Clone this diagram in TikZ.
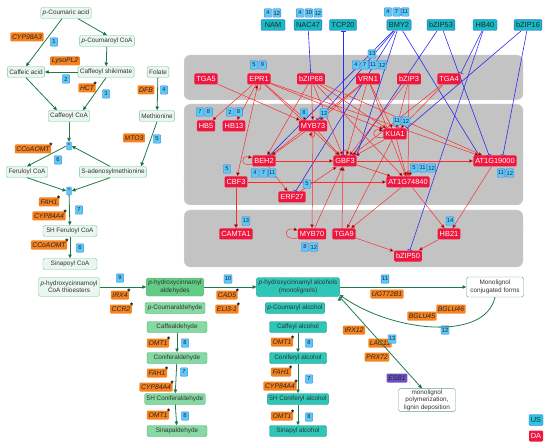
\documentclass[tikz,border=0pt]{standalone}
\usepackage{fontspec}
\setmainfont{Liberation Sans}
\usetikzlibrary{arrows.meta,positioning,backgrounds}

\definecolor{pathgreen}{HTML}{1E7B4A}
\definecolor{metfill}{HTML}{EAF7EE}
\definecolor{metdraw}{HTML}{74C69A}
\definecolor{aldfill}{HTML}{86D9A2}
\definecolor{aldtop}{HTML}{62CC86}
\definecolor{alcfill}{HTML}{2EC6B6}
\definecolor{genefill}{HTML}{F5821F}
\definecolor{numfill}{HTML}{5CC9F5}
\definecolor{numdraw}{HTML}{3D7DEB}
\definecolor{dafill}{HTML}{F0163E}
\definecolor{usfill}{HTML}{17BAC4}
\definecolor{usdraw}{HTML}{3358E0}
\definecolor{repblue}{HTML}{2B2BF2}
\definecolor{actred}{HTML}{FF2B2B}
\definecolor{clusterfill}{HTML}{C3C3C3}
\definecolor{esbfill}{HTML}{6B50C4}
\definecolor{legcyan}{HTML}{2AC6E4}

% row of step numbers next to each other
\newcommand{\numrow}[3]{%
  \foreach \t [count=\k] in {#3}{%
    \ifnum\k=1
      \node[numbox, anchor=west] (#1-\k) at (#2) {\t};
    \else
      \pgfmathtruncatemacro{\prevk}{\k-1}
      \node[numbox, right=0.7pt of #1-\prevk] (#1-\k) {\t};
    \fi}}

\begin{document}
\begin{tikzpicture}[
    x=1pt, y=-1pt,
    >={Triangle[width=3.4pt,length=3.8pt]},
    met/.style={draw=metdraw, fill=metfill, rounded corners=1.5pt, inner xsep=2pt, inner ysep=1.2pt,
      minimum height=11pt, align=center, text=black!80, font=\fontsize{6.4}{7.4}\selectfont},
    ald/.style={met, fill=aldfill, draw=aldtop!85!black},
    alc/.style={met, fill=alcfill, draw=alcfill!75!black},
    gene/.style={fill=genefill, rounded corners=1pt, inner xsep=1.6pt, inner ysep=1pt, minimum height=9pt,
      text=black!85, font=\fontsize{6.8}{7.5}\selectfont\itshape},
    starred/.style={label={[anchor=center, inner sep=0pt, xshift=-0.5pt, yshift=-1.5pt,
      font=\fontsize{8}{8}\selectfont\bfseries]north east:*}},
    numbox/.style={draw=numdraw, fill=numfill, rounded corners=0.8pt, inner sep=0.8pt, line width=0.4pt,
      minimum height=8.5pt, minimum width=7.5pt, text=black!85, font=\fontsize{5.8}{6.5}\selectfont},
    joinbox/.style={numbox, minimum width=5pt, minimum height=8pt, inner sep=0.3pt},
    da/.style={fill=dafill, text=white, rounded corners=1.2pt, inner xsep=2pt, inner ysep=1pt,
      minimum height=11pt, font=\fontsize{7.4}{8}\selectfont},
    us/.style={fill=usfill, draw=usdraw, line width=0.4pt, rounded corners=1.2pt, inner xsep=2pt, inner ysep=1pt,
      minimum height=11pt, minimum width=24pt, text=black!85, font=\fontsize{7.4}{8}\selectfont},
    flow/.style={->, draw=pathgreen, line width=0.8pt},
    act/.style={->, draw=actred, line width=0.5pt},
    rep/.style={-{Bar[width=5pt]}, draw=repblue, line width=0.6pt},
    cluster/.style={fill=clusterfill, draw=white!80!gray, dotted, line width=0.7pt, rounded corners=6pt},
    every loop/.style={min distance=7pt, looseness=5}
  ]
  \useasboundingbox (0,0) rectangle (550,444);

  % phenylpropanoid part
  \node[met] (cou) at (66,13) {\textit{p}-Coumaric acid};
  \node[met] (coucoa) at (107,41) {\textit{p}-Coumaroyl CoA};
  \node[met] (caf) at (26,72) {Caffeic acid};
  \node[met] (cafshik) at (106,72) {Caffeoyl shikimate};
  \node[met] (fol) at (158,72) {Folate};
  \node[met] (cafcoa) at (69,116) {Caffeoyl CoA};
  \node[met] (meth) at (157,116) {Methionine};
  \node[joinbox] (join1) at (69,146) {*};
  \node[met] (fercoa) at (27,172) {Feruloyl CoA};
  \node[met] (sam) at (113,172) {S-adenosylmethionine};
  \node[joinbox] (join2) at (69,191) {*};
  \node[met, minimum width=54pt] (fer5h) at (70,231) {5H Feruloyl CoA};
  \node[met, minimum width=54pt] (sincoa) at (70,264) {Sinapoyl CoA};
  \node[met, minimum height=19pt, inner ysep=0.5pt] (thio) at (69,287) {\textit{p}-hydroxycinnamoyl\\CoA thioesters};

  % aldehydes
  \node[ald, fill=aldtop, minimum height=18pt, inner ysep=0.5pt] (ald) at (175,287) {\textit{p}-hydroxycinnamyl\\aldehydes};
  \node[ald, minimum width=60pt] (cumald) at (175,308) {\textit{p}-Coumaraldehyde};
  \node[ald, minimum width=60pt] (cafald) at (177,327) {Caffealdehyde};
  \node[ald, minimum width=60pt] (conald) at (177,358) {Coniferaldehyde};
  \node[ald, minimum width=60pt] (h5ald) at (175,399) {5H Coniferaldehyde};
  \node[ald, minimum width=60pt] (sinald) at (177,431) {Sinapaldehyde};

  % alcohols
  \node[alc, minimum height=19pt, inner ysep=0.5pt] (alc) at (298,287) {\textit{p}-hydroxycinnamyl alcohols\\(monolignols)};
  \node[alc, minimum width=56pt] (cumalc) at (295,308) {\textit{p}-Coumaryl alcohol};
  \node[alc, minimum width=57pt] (cafalc) at (298,327) {Caffeyl alcohol};
  \node[alc, minimum width=57pt] (conalc) at (298,358) {Coniferyl alcohol};
  \node[alc, minimum width=57pt] (h5alc) at (298,399) {5H Coniferyl alcohol};
  \node[alc, minimum width=57pt] (sinalc) at (298,431) {Sinapyl alcohol};
  \node[met, fill=white, draw=pathgreen!70, minimum width=57pt, minimum height=20pt, inner ysep=0.5pt] (conj) at (495,287) {Monolignol\\conjugated forms};
  \node[met, fill=white, draw=pathgreen!70, minimum width=57pt, inner ysep=1pt] (poly) at (427,400) {monolignol\\polymerization,\\lignin deposition};

  % genes
  \node[gene] (cyp98a3) at (27,37) {CYP98A3};
  \node[gene] (lysopl2) at (65,61) {LysoPL2};
  \node[gene, starred] (hct) at (87,88) {HCT};
  \node[gene] (dfb) at (146,90) {DFB};
  \node[gene] (mto3) at (134,138) {MTO3};
  \node[gene, starred] (ccoaomt1) at (33,149) {CCoAOMT};
  \node[gene, starred] (fah1a) at (49,202) {FAH1};
  \node[gene, starred] (cyp84a4a) at (49,216) {CYP84A4};
  \node[gene, starred] (ccoaomt2) at (49,245) {CCoAOMT};
  \node[gene, starred] (irx4) at (120,295) {IRX4};
  \node[gene, starred] (ccr2) at (121,309) {CCR2};
  \node[gene, starred] (cad5) at (227,295) {CAD5};
  \node[gene, starred] (eli31) at (227,309) {ELI3-1};
  \node[gene, starred] (omt1a) at (158,343) {OMT1};
  \node[gene, starred] (fah1b) at (157,373) {FAH1};
  \node[gene, starred] (cyp84a4b) at (156,387) {CYP84A4};
  \node[gene, starred] (omt1b) at (158,415) {OMT1};
  \node[gene, starred] (omt1c) at (282,342) {OMT1};
  \node[gene, starred] (fah1c) at (281,372) {FAH1};
  \node[gene, starred] (cyp84a4c) at (280,386) {CYP84A4};
  \node[gene, starred] (omt1d) at (282,416) {OMT1};
  \node[gene] (ugt72b1) at (387,294) {UGT72B1};
  \node[gene] (bglu45) at (422,316) {BGLU45};
  \node[gene] (bglu46) at (451,309) {BGLU46};
  \node[gene] (irx12) at (354,330) {IRX12};
  \node[gene] (lac11) at (380,343) {LAC11};
  \node[gene] (prx72) at (377,357) {PRX72};
  \node[gene, fill=esbfill] (esb1) at (397,378) {ESB1};

  % step numbers of the pathway
  \node[numbox] (s1) at (54,42) {1};
  \node[numbox] (s2) at (66,79) {2};
  \node[numbox] (s3) at (106,94) {3};
  \node[numbox] (s4) at (164,90) {4};
  \node[numbox] (s5) at (157,139) {5};
  \node[numbox] (s6a) at (58,160) {6};
  \node[numbox] (s7a) at (79,210) {7};
  \node[numbox] (s6b) at (80,248) {6};
  \node[numbox] (s9) at (120,278) {9};
  \node[numbox] (s10) at (228,279) {10};
  \node[numbox] (s11) at (385,279) {11};
  \node[numbox] (s12) at (445,330) {12};
  \node[numbox] (s13) at (392,339) {13};
  \node[numbox] (s8a) at (185,343) {8};
  \node[numbox] (s7b) at (184,372) {7};
  \node[numbox] (s8b) at (185,416) {8};
  \node[numbox] (s8c) at (309,343) {8};
  \node[numbox] (s7c) at (309,379) {7};
  \node[numbox] (s8d) at (309,417) {8};

  \path[flow]
    ([xshift=-4pt]cou.south) edge (caf.north)
    ([xshift=12pt]cou.south) edge (coucoa.north)
    (coucoa) edge (cafshik)
    (cafshik) edge (caf)
    (caf.south) edge ([xshift=-12pt]cafcoa.north)
    (cafshik.south) edge ([xshift=14pt]cafcoa.north)
    (fol) edge (meth)
    (meth.south) edge ([xshift=28pt]sam.north)
    (cafcoa) edge (join1)
    ([xshift=-3pt]sam.north) edge (join1.east)
    (join1.west) edge (fercoa.north)
    (fercoa.south) edge (join2.west)
    ([xshift=-3pt]sam.south) edge (join2.east)
    (join2) edge (fer5h)
    (fer5h) edge (sincoa)
    (thio) edge (ald)
    (ald) edge (alc)
    (cafald) edge (conald)
    (conald) edge (h5ald)
    (h5ald) edge (sinald)
    (cafalc) edge (conalc)
    (conalc) edge (h5alc)
    (h5alc) edge (sinalc)
    (alc) edge (conj)
    (alc.south east) edge ([xshift=-5pt]poly.north);
  \draw[flow] (conj.south) .. controls (485,342) and (392,332) .. ([yshift=2pt]alc.south east);

  % regulatory network
  \node[us] (nam) at (273,25) {NAM};
  \node[us] (nac47) at (308,25) {NAC47};
  \node[us] (tcp20) at (343,25) {TCP20};
  \node[us] (bmy2) at (399,25) {BMY2};
  \node[us] (bzip53) at (441,25) {bZIP53};
  \node[us] (hb40) at (485,25) {HB40};
  \node[us] (bzip16) at (528,25) {bZIP16};

  \node[da] (tga5) at (206,79) {TGA5};
  \node[da] (epr1) at (259,79) {EPR1};
  \node[da] (bzip68) at (311,79) {bZIP68};
  \node[da] (vrn1) at (368,79) {VRN1};
  \node[da] (bzip3) at (409,79) {bZIP3};
  \node[da] (tga4) at (449,79) {TGA4};
  \node[da] (hb5) at (206,126) {HB5};
  \node[da] (hb13) at (234,126) {HB13};
  \node[da] (myb73) at (313,126) {MYB73};
  \node[da] (kua1) at (395,134) {KUA1};
  \node[da] (beh2) at (264,161) {BEH2};
  \node[da] (gbf3) at (345,161) {GBF3};
  \node[da] (at19) at (495,161) {AT1G19000};
  \node[da] (cbf3) at (236,182) {CBF3};
  \node[da] (at74) at (408,182) {AT1G74840};
  \node[da] (erf27) at (292,197) {ERF27};
  \node[da] (camta1) at (236,234) {CAMTA1};
  \node[da] (myb70) at (312,234) {MYB70};
  \node[da] (tga9) at (344,234) {TGA9};
  \node[da] (hb21) at (449,234) {HB21};
  \node[da] (bzip50) at (408,256) {bZIP50};

  \numrow{namn}{264,13}{4,12}
  \numrow{nacn}{296,13}{4,10,12}
  \numrow{bmyn}{384,12}{4,7,11}
  \numrow{eprn}{250,65}{5,9}
  \numrow{vrnn}{352,65}{4,7,11,12}
  \node[numbox] (vrnx) at (372,54) {13};
  \numrow{hbfn}{196,112}{7,8}
  \numrow{hbtn}{226,112}{2,8}
  \node[numbox] (myba) at (304,113) {8};
  \node[numbox] (mybb) at (324,113) {12};
  \numrow{kuan}{393,121}{11,12}
  \numrow{behn}{251,173}{4,7,11}
  \node[numbox] (cbfn) at (227,169) {5};
  \node[numbox] (erfn) at (307,184) {5};
  \numrow{atsn}{410,168}{5,11,12}
  \numrow{atnn}{497,173}{11,12}
  \node[numbox] (camtan) at (246,221) {13};
  \numrow{mybn}{301,247}{8,12}
  \node[numbox] (hbn) at (450,221) {14};

  % legend
  \node[us, fill=legcyan, minimum width=14pt, inner xsep=1.5pt] (legus) at (536,420) {US};
  \node[da, minimum width=14pt, inner xsep=1.5pt] (legda) at (536,436) {DA};

  \begin{scope}[on background layer]
    \draw[cluster] (184,55) rectangle (523,100);
    \draw[cluster] (184,104) rectangle (523,205);
    \draw[cluster] (184,210) rectangle (523,267);

    \path[rep]
      (nac47) edge (bzip68)
      (tcp20.south) edge (tcp20.south |- gbf3.north)
      (bmy2) edge (myb73)
      (bmy2) edge (beh2)
      (bmy2) edge (erf27)
      (bmy2) edge (gbf3.north east)
      (bmy2) edge ([xshift=-16pt]at19.north)
      (bzip53) edge ([xshift=8pt]gbf3.north)
      (bzip53) edge ([xshift=-6pt]at19.north)
      (hb40) edge (tga4.north east)
      (hb40) edge (bzip50)
      (bzip16) edge (kua1.north east)
      (bzip16) edge ([xshift=8pt]at19.north);

    \path[act]
      (epr1) edge (hb5)
      (epr1) edge (hb13)
      (epr1) edge (cbf3)
      (epr1) edge (myb73)
      (epr1) edge (gbf3)
      (epr1) edge (kua1)
      (epr1) edge (at19)
      (epr1) edge[loop below] (epr1)
      (tga5) edge (myb73)
      (bzip68) edge (myb73)
      (bzip68) edge (beh2)
      (bzip68) edge (gbf3)
      (bzip68) edge (kua1)
      (bzip68) edge (at74)
      (bzip68) edge (at19)
      (vrn1) edge (myb73)
      (vrn1) edge (beh2)
      (vrn1) edge (gbf3)
      (vrn1) edge (kua1)
      (vrn1) edge (at74)
      (bzip3) edge (kua1)
      (bzip3) edge (gbf3)
      (bzip3) edge (at74)
      (tga4) edge (kua1)
      (tga4) edge (gbf3)
      (myb73) edge (gbf3)
      (myb73) edge (myb70)
      (myb73) edge (beh2)
      (myb73) edge[loop below] (myb73)
      (kua1) edge (gbf3)
      (kua1) edge (at74)
      (kua1) edge (tga9)
      (kua1) edge[loop left] (kua1)
      (beh2) edge (gbf3)
      (beh2) edge (erf27)
      (beh2) edge[loop left] (beh2)
      (gbf3) edge (at19)
      (gbf3) edge (at74)
      (gbf3) edge[loop above] (gbf3)
      (cbf3) edge (camta1)
      (cbf3) edge (at74)
      (erf27) edge (gbf3)
      (at74) edge (hb21)
      (at74) edge (tga9)
      (at74) edge[loop above] (at74)
      (at19) edge (hb21)
      (hb21) edge (bzip50)
      (myb70) edge (gbf3)
      (myb70) edge[loop left] (myb70)
      ([xshift=-2pt]tga9.north) edge ([xshift=-2pt]gbf3.south)
      (tga9) edge (bzip50);
  \end{scope}
\end{tikzpicture}
\end{document}
